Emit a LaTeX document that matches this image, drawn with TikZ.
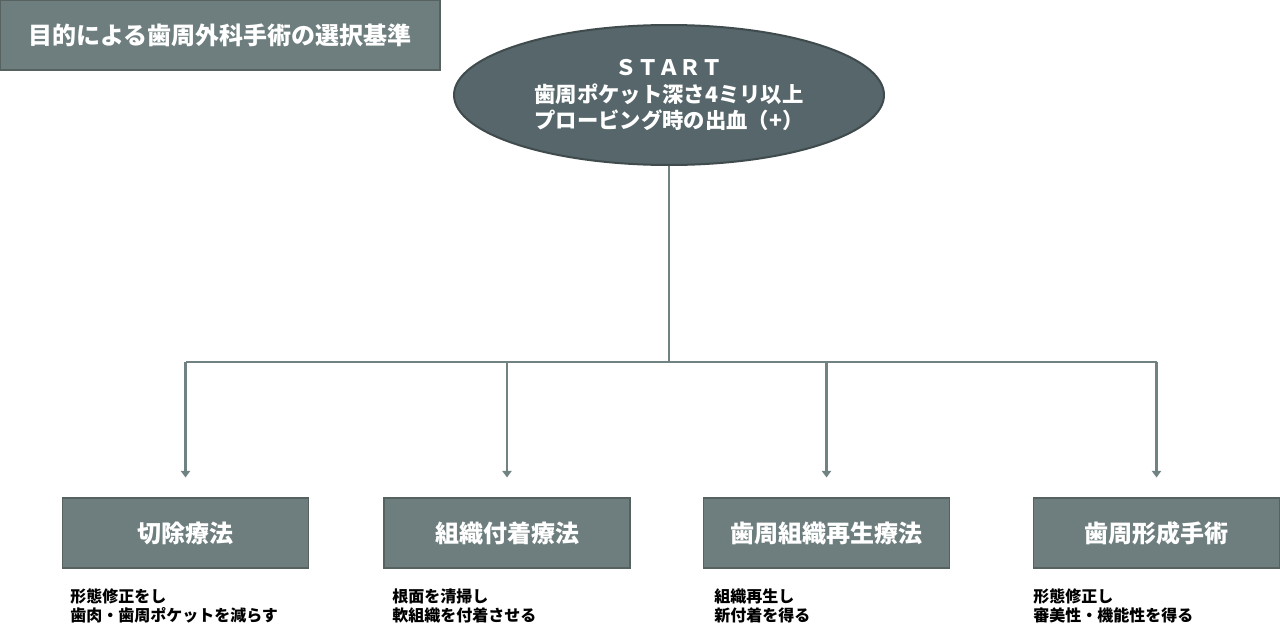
\documentclass[tikz,border=0pt]{standalone}
\usepackage{fontspec}
\newfontfamily\cjk{Noto Sans CJK JP}
\usetikzlibrary{positioning}
\usetikzlibrary{shapes.geometric}
\usetikzlibrary{arrows.meta}
\pgfdeclarelayer{nodelayer}
\pgfdeclarelayer{edgelayer}
\pgfsetlayers{edgelayer,nodelayer,main}
\definecolor{boxgray}{HTML}{6E7E7F}
\definecolor{boxedge}{HTML}{55625F}
\definecolor{ovalgray}{HTML}{56666A}
\definecolor{ovaledge}{HTML}{3F4B4D}
\definecolor{linkgray}{HTML}{718283}
\tikzset{
    headbox/.style = {rectangle, fill=boxgray, draw=boxedge, line width=0.8pt,
        minimum width=330pt, minimum height=52.5pt, inner sep=0pt, text=white,
        font=\cjk\bfseries\fontsize{18}{22}\selectfont},
    startoval/.style = {ellipse, fill=ovalgray, draw=ovaledge, line width=1.5pt,
        minimum width=322.5pt, minimum height=105pt, inner sep=0pt, text=white,
        align=center, font=\cjk\bfseries\fontsize{16}{20}\selectfont},
    methodbox/.style = {rectangle, fill=boxgray, draw=boxedge, line width=0.8pt,
        minimum width=184.5pt, minimum height=52.5pt, inner sep=0pt, text=white,
        font=\cjk\bfseries\fontsize{18}{22}\selectfont},
    aimtext/.style = {anchor=west, inner sep=0pt, align=left,
        font=\cjk\bfseries\fontsize{12}{14}\selectfont},
    link/.style = {draw=linkgray, line width=2.2pt},
    linkarrow/.style = {link, -{Triangle[width=7pt,length=5pt]}, shorten >=15pt}
}

\begin{document}
\begin{tikzpicture}[x=0.75pt,y=-0.75pt]
  \useasboundingbox (0,0) rectangle (1280,639);
  \begin{pgfonlayer}{nodelayer}
    \node [headbox] (title) at (220,35) {目的による歯周外科手術の選択基準};
    \node [startoval] (start) at (669,95) {ＳＴＡＲＴ\\歯周ポケット深さ4ミリ以上\\プロービング時の出血（+）};
    \node [methodbox] (cut) at (185.5,533) {切除療法};
    \node [methodbox] (attach) at (507,533) {組織付着療法};
    \node [methodbox] (regen) at (826.5,533) {歯周組織再生療法};
    \node [methodbox] (plastic) at (1156.5,533) {歯周形成手術};
    \node [aimtext] (cutaim) at (70,606) {形態修正をし\\歯肉・歯周ポケットを減らす};
    \node [aimtext] (attachaim) at (392,606) {根面を清掃し\\軟組織を付着させる};
    \node [aimtext] (regenaim) at (714,606) {組織再生し\\新付着を得る};
    \node [aimtext] (plasticaim) at (1033,606) {形態修正し\\審美性・機能性を得る};
  \end{pgfonlayer}
  \begin{pgfonlayer}{edgelayer}
    \coordinate (hub) at (669,362);
    \draw [link] (start.south) to (hub);
    \draw [link] (hub -| cut) to (hub -| plastic);
    \draw [linkarrow] (hub -| cut) to (cut.north);
    \draw [linkarrow] (hub -| attach) to (attach.north);
    \draw [linkarrow] (hub -| regen) to (regen.north);
    \draw [linkarrow] (hub -| plastic) to (plastic.north);
  \end{pgfonlayer}
\end{tikzpicture}
\end{document}
